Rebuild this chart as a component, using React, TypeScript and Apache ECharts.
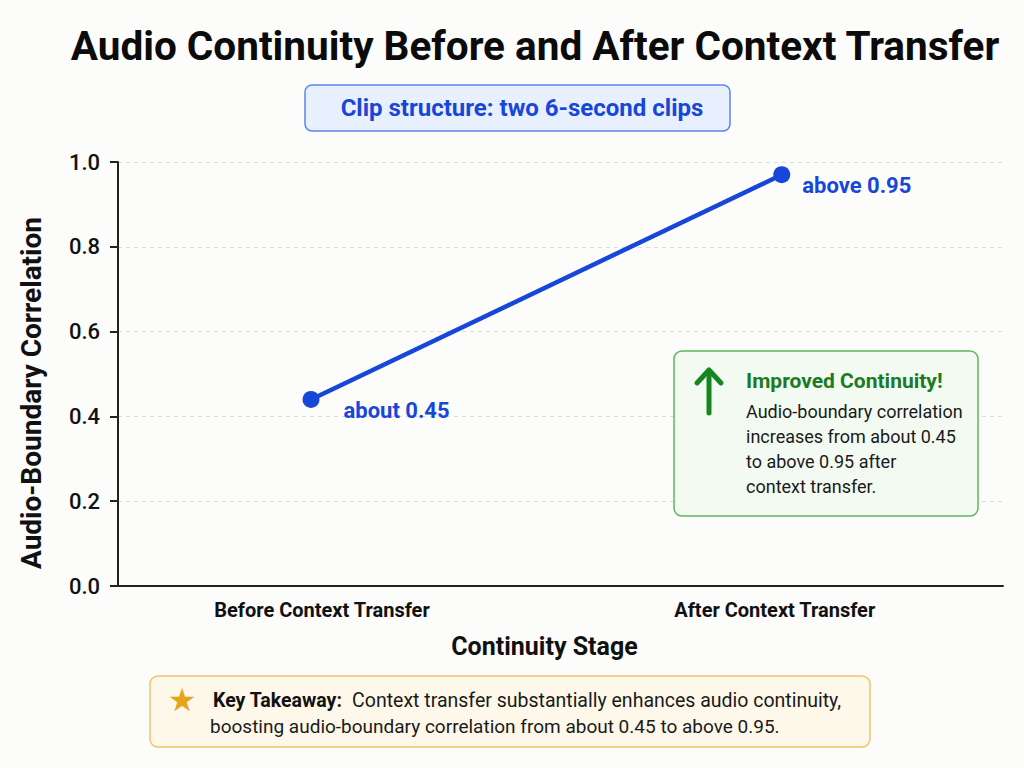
import { useEffect, useRef } from "react";
import * as echarts from "echarts";

const stages = ["Before Context Transfer", "After Context Transfer"];
const stagePos = [0, 1];
const correlation = [0.44, 0.97];
const pointLabels = ["about 0.45", "above 0.95"];
const yTicks = [0, 0.2, 0.4, 0.6, 0.8, 1.0];

const FONT = "Roboto, 'Noto Sans', sans-serif";
const BLUE = "#1747d8";

export default function App() {
  const ref = useRef<HTMLDivElement>(null);

  useEffect(() => {
    if (!ref.current) return;
    const chart = echarts.init(ref.current, undefined, { renderer: "svg" });
    const stageLabel = { fontSize: 20, fontWeight: "bold", color: "#111", fontFamily: FONT };
    chart.setOption({
      animation: false,
      backgroundColor: "#fcfcfb",
      textStyle: { fontFamily: FONT },
      grid: { left: 118, right: 21, top: 162, bottom: 182 },
      xAxis: {
        type: "value",
        min: -0.41,
        max: 1.47,
        name: "Continuity Stage",
        nameLocation: "middle",
        nameGap: 48,
        nameTextStyle: { fontSize: 25, fontWeight: "bold", color: "#111", fontFamily: FONT, padding: [0, 32, 0, 0] },
        axisLine: { show: true, onZero: false, lineStyle: { color: "#222", width: 2 } },
        axisTick: { show: false },
        splitLine: { show: false },
        axisLabel: {
          customValues: stagePos,
          // nudge the two labels a little off their points, as in the reference
          formatter: (v: number) => {
            const i = stagePos.indexOf(v);
            return i < 0 ? "" : `{s${i}|${stages[i]}}`;
          },
          rich: {
            s0: { ...stageLabel, padding: [0, 0, 0, 22] },
            s1: { ...stageLabel, padding: [0, 14, 0, 0] },
          },
          margin: 14,
        },
      },
      yAxis: {
        type: "value",
        min: 0,
        max: 1,
        interval: 0.2,
        name: "Audio-Boundary Correlation",
        nameLocation: "middle",
        nameGap: 73,
        nameTextStyle: {
          fontSize: 28,
          fontWeight: "bold",
          color: "#111",
          fontFamily: FONT,
          padding: [0, 38, 0, 0],
        },
        axisLine: { show: true, onZero: false, lineStyle: { color: "#222", width: 2 } },
        axisTick: { show: true, length: 8, lineStyle: { color: "#222", width: 2 } },
        axisLabel: {
          formatter: (v: number) => (yTicks.includes(Number(v.toFixed(1))) ? v.toFixed(1) : ""),
          fontSize: 22,
          color: "#111",
          margin: 18,
          fontFamily: FONT,
          fontWeight: 500,
        },
        splitLine: { show: true, lineStyle: { color: "#dcdcdc", type: [4, 4], width: 1 } },
      },
      series: [
        {
          type: "line",
          data: correlation.map((v, i) => ({
            value: [stagePos[i], v],
            label: {
              show: true,
              position: "right",
              formatter: pointLabels[i],
              distance: i === 0 ? 24 : 12,
              offset: [0, 11],
              fontSize: 22,
              fontWeight: "bold",
              color: BLUE,
              fontFamily: FONT,
            },
          })),
          symbol: "circle",
          symbolSize: 17,
          lineStyle: { color: BLUE, width: 4.5 },
          itemStyle: { color: BLUE },
          z: 5,
        },
      ],
      graphic: [
        {
          type: "text",
          style: {
            text: "Audio Continuity Before and After Context Transfer",
            x: 535,
            y: 46,
            textAlign: "center",
            textVerticalAlign: "middle",
            font: `bold 40.5px ${FONT}`,
            fill: "#0b0b0b",
          },
        },
        {
          type: "rect",
          shape: { x: 305, y: 85, width: 425, height: 46, r: 7 },
          style: { fill: "#e9f0fd", stroke: "#5a86ec", lineWidth: 1.5 },
        },
        {
          type: "text",
          style: {
            text: "Clip structure: two 6-second clips",
            x: 522,
            y: 108,
            textAlign: "center",
            textVerticalAlign: "middle",
            font: `bold 24px ${FONT}`,
            fill: BLUE,
          },
        },
        {
          type: "rect",
          shape: { x: 674, y: 351, width: 304, height: 165, r: 8 },
          style: { fill: "#f2faf2", stroke: "#5cb85c", lineWidth: 1.5 },
          z: 10,
        },
        {
          type: "line",
          shape: { x1: 709, y1: 413, x2: 709, y2: 371 },
          style: { stroke: "#15871f", lineWidth: 5, lineCap: "round" },
          z: 11,
        },
        {
          type: "polyline",
          shape: { points: [[697, 383], [709, 370], [721, 383]] },
          style: { stroke: "#15871f", lineWidth: 5, lineCap: "round", lineJoin: "round", fill: "none" },
          z: 11,
        },
        {
          type: "text",
          style: {
            text: "Improved Continuity!",
            x: 746,
            y: 381,
            textVerticalAlign: "middle",
            font: `bold 21px ${FONT}`,
            fill: "#1b7a22",
          },
          z: 11,
        },
        {
          type: "text",
          style: {
            text: "Audio-boundary correlation\nincreases from about 0.45\nto above 0.95 after\ncontext transfer.",
            x: 746,
            y: 399,
            font: `18px ${FONT}`,
            lineHeight: 25,
            fill: "#1a1a1a",
          },
          z: 11,
        },
        {
          type: "rect",
          shape: { x: 150, y: 676, width: 720, height: 71, r: 8 },
          style: { fill: "#fdf8e9", stroke: "#f0c468", lineWidth: 1.5 },
        },
        {
          type: "text",
          style: {
            text: "★",
            x: 182,
            y: 700,
            textAlign: "center",
            textVerticalAlign: "middle",
            font: "32px 'DejaVu Sans'",
            fill: "#e5a51a",
          },
        },
        {
          type: "text",
          style: {
            text: "{b|Key Takeaway:}  Context transfer substantially enhances audio continuity,",
            x: 213,
            y: 700,
            textVerticalAlign: "middle",
            font: `19.5px ${FONT}`,
            fill: "#1a1a1a",
            rich: { b: { fontWeight: "bold", fontSize: 19.5, fontFamily: FONT, fill: "#111" } },
          },
        },
        {
          type: "text",
          style: {
            text: "boosting audio-boundary correlation from about 0.45 to above 0.95.",
            x: 210,
            y: 726,
            textVerticalAlign: "middle",
            font: `19px ${FONT}`,
            fill: "#1a1a1a",
          },
        },
      ],
    });
    return () => chart.dispose();
  }, []);

  return (
    <div
      ref={ref}
      style={{ position: "fixed", left: 0, top: 0, width: 1024, height: 768 }}
    />
  );
}
